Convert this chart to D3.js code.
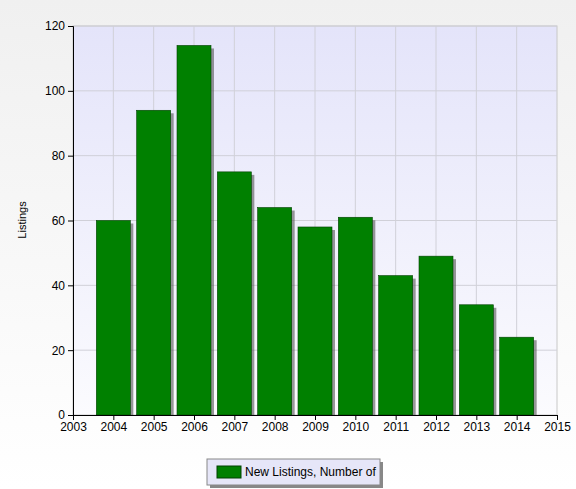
<!DOCTYPE html><html><head><script src="https://cdn.jsdelivr.net/npm/d3@7"></script>
<style>body{margin:0;background:#f0f0f0}text{font-family:"Liberation Sans",Arial,sans-serif}</style></head><body>
<svg id="c" width="576" height="489"></svg>
<script>
const years=[2004,2005,2006,2007,2008,2009,2010,2011,2012,2013,2014];
const listings=[60,94,114,75,64,58,61,43,49,34,24];
const yTicks=[0,20,40,60,80,100,120];
const xTicks=d3.range(2003,2016);
const seriesName="New Listings, Number of";
const svg=d3.select("#c");
const L=73,R=557,T=26,B=415;
const x=d3.scaleLinear().domain([2003,2015]).range([L,R]);
const y=d3.scaleLinear().domain([0,120]).range([B,T]);
const defs=svg.append("defs");
const bg=defs.append("linearGradient").attr("id","bg").attr("x1",0).attr("y1",0).attr("x2",0).attr("y2",1);
bg.append("stop").attr("offset",0).attr("stop-color","#f0f0f0");
bg.append("stop").attr("offset",1).attr("stop-color","#ffffff");
const pg=defs.append("linearGradient").attr("id","pg").attr("x1",0).attr("y1",0).attr("x2",0).attr("y2",1);
pg.append("stop").attr("offset",0).attr("stop-color","#e4e4fa");
pg.append("stop").attr("offset",1).attr("stop-color","#fbfbfe");
svg.append("rect").attr("width",576).attr("height",489).attr("fill","url(#bg)");
svg.append("rect").attr("x",L).attr("y",T).attr("width",R-L).attr("height",B-T).attr("fill","url(#pg)").attr("stroke","#c8c8c8");
svg.append("g").selectAll("line").data(xTicks.slice(1,-1)).join("line").attr("x1",d=>x(d)).attr("x2",d=>x(d)).attr("y1",T).attr("y2",B).attr("stroke","#d0d0d8");
svg.append("g").selectAll("line").data(yTicks.slice(1)).join("line").attr("x1",L).attr("x2",R).attr("y1",d=>y(d)).attr("y2",d=>y(d)).attr("stroke","#d0d0d8");
const bw=34;
svg.append("g").selectAll("rect").data(years).join("rect").attr("x",(d)=>x(d)-bw/2+3).attr("y",(d,i)=>y(listings[i])+3).attr("width",bw).attr("height",(d,i)=>B-y(listings[i])-3).attr("fill","#555").attr("opacity",0.6);
svg.append("g").selectAll("rect").data(years).join("rect").attr("x",(d)=>x(d)-bw/2).attr("y",(d,i)=>y(listings[i])).attr("width",bw).attr("height",(d,i)=>B-y(listings[i])).attr("fill","#008000").attr("stroke","#004000").attr("stroke-width",0.6);
const ya=svg.append("g").attr("transform",`translate(${L},0)`).call(d3.axisLeft(y).tickValues(yTicks).tickSize(5).tickPadding(3));
const xa=svg.append("g").attr("transform",`translate(0,${B})`).call(d3.axisBottom(x).tickValues(xTicks).tickFormat(d3.format("d")).tickSize(5).tickPadding(2));
[ya,xa].forEach(a=>{a.selectAll("text").attr("font-size",12).attr("fill","#000").style("font-family","Liberation Sans, Arial");a.selectAll("line,path").attr("stroke","#000");});
svg.append("text").attr("transform","translate(26,220) rotate(-90)").attr("text-anchor","middle").attr("font-size",11).text("Listings");
svg.append("rect").attr("x",210).attr("y",462).attr("width",173).attr("height",26).attr("fill","#888");
svg.append("rect").attr("x",207).attr("y",459).attr("width",173).attr("height",26).attr("fill","#e6e6f8").attr("stroke","#888");
svg.append("rect").attr("x",217).attr("y",466).attr("width",24).attr("height",12).attr("fill","#008000").attr("stroke","#004000");
svg.append("text").attr("x",245).attr("y",476).attr("font-size",12).text(seriesName);
</script></body></html>
